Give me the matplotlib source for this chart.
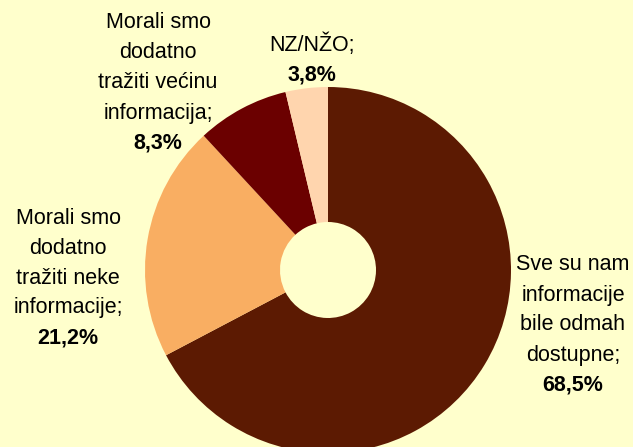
import matplotlib.pyplot as plt

labels = ['Sve su nam\ninformacije\nbile odmah\ndostupne;', 'Morali smo\ndodatno\ntražiti neke\ninformacije;',
          'Morali smo\ndodatno\ntražiti većinu\ninformacija;', 'NZ/NŽO;']
pct_labels = ['68,5%', '21,2%', '8,3%', '3,8%']
values = [68.5, 21.2, 8.3, 3.8]
colors = ['#5C1A02', '#F9AE62', '#6B0000', '#FFD5AE']

W, H = 633, 447
plt.rcParams['font.family'] = ['Liberation Sans Narrow', 'Liberation Sans', 'DejaVu Sans']

fig = plt.figure(figsize=(W / 100, H / 100), dpi=100)
fig.patch.set_facecolor('#FFFFCC')
ax = fig.add_axes([0, 0, 1, 1])

cx, cy, r, hole = 328, H - 270, 183, 48
ax.pie(values, colors=colors, startangle=90, counterclock=False, center=(cx, cy), radius=r,
       wedgeprops=dict(width=r - hole, linewidth=0), frame=True)
ax.set_xlim(0, W)
ax.set_ylim(0, H)
ax.set_aspect('equal')
ax.axis('off')

# label centres (pixels from top-left), each line 30 px apart
pos = [(573, 325), (68, 278), (158, 83), (312, 60)]
line_h = 30
for (x, y), lab, p in zip(pos, labels, pct_labels):
    lines = lab.split('\n') + [p]
    n = len(lines)
    for i, line in enumerate(lines):
        ly = y + (i - (n - 1) / 2) * line_h
        ax.text(x, H - ly, line, ha='center', va='center', fontsize=15.5,
                fontweight='bold' if i == n - 1 else 'normal', color='black')

fig.savefig('out.png', dpi=100, facecolor=fig.get_facecolor())
